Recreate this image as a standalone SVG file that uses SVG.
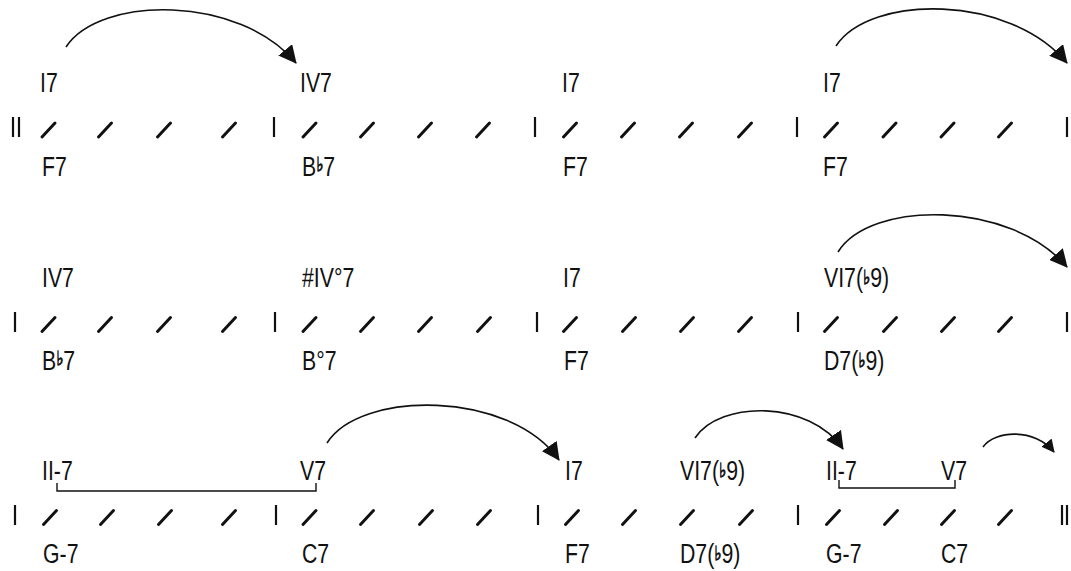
<svg xmlns="http://www.w3.org/2000/svg" width="1071" height="571" viewBox="0 0 1071 571">
<style>
.t{font-family:"Liberation Sans","DejaVu Sans",sans-serif;font-size:28px;fill:#111}
.s{font-family:"DejaVu Sans",sans-serif;font-size:20px;stroke:#111;stroke-width:0.9}
.sl{stroke:#111;stroke-width:3;stroke-linecap:round}
.bar{stroke:#111;stroke-width:2.2}
.arc{fill:none;stroke:#111;stroke-width:1.6}
.br{fill:none;stroke:#111;stroke-width:1.4}
</style>
<defs>
<marker id="ah" viewBox="0 0 18 18" refX="17" refY="9" markerWidth="18" markerHeight="18" markerUnits="userSpaceOnUse" orient="auto">
<path d="M0,0 L18,9 L0,18 z" fill="#111"/>
</marker>
<marker id="ahs" viewBox="0 0 13 13" refX="12" refY="6.5" markerWidth="13" markerHeight="13" markerUnits="userSpaceOnUse" orient="auto">
<path d="M0,0 L13,6.5 L0,13 z" fill="#111"/>
</marker>
<g id="beats">
<line class="sl" x1="-6.5" y1="7" x2="6.5" y2="-7"/>
</g>
</defs>
<rect width="1071" height="571" fill="#fff"/>

<!-- Staff row 1 -->
<g id="staff1">
<line class="bar" x1="13" y1="117" x2="13" y2="137"/>
<line class="bar" x1="19" y1="117" x2="19" y2="137"/>
<line class="bar" x1="274" y1="117" x2="274" y2="137"/>
<line class="bar" x1="535" y1="117" x2="535" y2="137"/>
<line class="bar" x1="797" y1="117" x2="797" y2="137"/>
<line class="bar" x1="1067" y1="117" x2="1067" y2="137"/>
<use href="#beats" x="48.5" y="130"/><use href="#beats" x="105" y="130"/><use href="#beats" x="164" y="130"/><use href="#beats" x="229" y="130"/>
<use href="#beats" x="309.5" y="130"/><use href="#beats" x="367" y="130"/><use href="#beats" x="425" y="130"/><use href="#beats" x="483" y="130"/>
<use href="#beats" x="570" y="130"/><use href="#beats" x="628" y="130"/><use href="#beats" x="686" y="130"/><use href="#beats" x="745" y="130"/>
<use href="#beats" x="831" y="130"/><use href="#beats" x="889.5" y="130"/><use href="#beats" x="947.5" y="130"/><use href="#beats" x="1005" y="130"/>
</g>

<!-- Staff row 2 -->
<g id="staff2">
<line class="bar" x1="15" y1="312" x2="15" y2="332"/>
<line class="bar" x1="275" y1="312" x2="275" y2="332"/>
<line class="bar" x1="537" y1="312" x2="537" y2="332"/>
<line class="bar" x1="798" y1="312" x2="798" y2="332"/>
<line class="bar" x1="1067" y1="312" x2="1067" y2="332"/>
<use href="#beats" x="48.5" y="324.5"/><use href="#beats" x="105" y="324.5"/><use href="#beats" x="164" y="324.5"/><use href="#beats" x="229" y="324.5"/>
<use href="#beats" x="309.5" y="324.5"/><use href="#beats" x="367" y="324.5"/><use href="#beats" x="425" y="324.5"/><use href="#beats" x="484" y="324.5"/>
<use href="#beats" x="570" y="324.5"/><use href="#beats" x="629" y="324.5"/><use href="#beats" x="687" y="324.5"/><use href="#beats" x="745" y="324.5"/>
<use href="#beats" x="831" y="324.5"/><use href="#beats" x="890" y="324.5"/><use href="#beats" x="948" y="324.5"/><use href="#beats" x="1005" y="324.5"/>
</g>

<!-- Staff row 3 -->
<g id="staff3">
<line class="bar" x1="15" y1="505" x2="15" y2="525"/>
<line class="bar" x1="276" y1="505" x2="276" y2="525"/>
<line class="bar" x1="538" y1="505" x2="538" y2="525"/>
<line class="bar" x1="798" y1="505" x2="798" y2="525"/>
<line class="bar" x1="1062" y1="505" x2="1062" y2="525"/>
<line class="bar" x1="1067" y1="505" x2="1067" y2="525"/>
<use href="#beats" x="50" y="517.5"/><use href="#beats" x="107" y="517.5"/><use href="#beats" x="165" y="517.5"/><use href="#beats" x="229" y="517.5"/>
<use href="#beats" x="309.5" y="517.5"/><use href="#beats" x="367" y="517.5"/><use href="#beats" x="426" y="517.5"/><use href="#beats" x="484" y="517.5"/>
<use href="#beats" x="572" y="517.5"/><use href="#beats" x="629" y="517.5"/><use href="#beats" x="687" y="517.5"/><use href="#beats" x="746" y="517.5"/>
<use href="#beats" x="833" y="517.5"/><use href="#beats" x="891" y="517.5"/><use href="#beats" x="948" y="517.5"/><use href="#beats" x="1005" y="517.5"/>
</g>

<!-- Chords row 1 -->
<g id="r1c1"><text class="t" transform="translate(40 92) scale(0.76 1)">I7</text><text class="t" transform="translate(42 176) scale(0.76 1)">F7</text></g>
<g id="r1c2"><text class="t" transform="translate(300 92) scale(0.76 1)">IV7</text><text class="t" transform="translate(302 176) scale(0.76 1)">B<tspan class="s" dy="-5">♭</tspan><tspan dy="5">7</tspan></text></g>
<g id="r1c3"><text class="t" transform="translate(562 92) scale(0.76 1)">I7</text><text class="t" transform="translate(563 176) scale(0.76 1)">F7</text></g>
<g id="r1c4"><text class="t" transform="translate(823 92) scale(0.76 1)">I7</text><text class="t" transform="translate(823 176) scale(0.76 1)">F7</text></g>

<!-- Chords row 2 -->
<g id="r2c1"><text class="t" transform="translate(42 287) scale(0.76 1)">IV7</text><text class="t" transform="translate(42 370) scale(0.76 1)">B<tspan class="s" dy="-5">♭</tspan><tspan dy="5">7</tspan></text></g>
<g id="r2c2"><text class="t" transform="translate(302 287) scale(0.76 1)">#IV°7</text><text class="t" transform="translate(302 370) scale(0.76 1)">B°7</text></g>
<g id="r2c3"><text class="t" transform="translate(563 287) scale(0.76 1)">I7</text><text class="t" transform="translate(564 370) scale(0.76 1)">F7</text></g>
<g id="r2c4"><text class="t" transform="translate(824 287) scale(0.76 1)">VI7(<tspan class="s" dy="-3">♭</tspan><tspan dy="3">9)</tspan></text><text class="t" transform="translate(824 370) scale(0.76 1)">D7(<tspan class="s" dy="-3">♭</tspan><tspan dy="3">9)</tspan></text></g>

<!-- Chords row 3 -->
<g id="r3c1"><text class="t" transform="translate(42 480) scale(0.76 1)">II-7</text><text class="t" transform="translate(43 563) scale(0.76 1)">G-7</text></g>
<g id="r3c2"><text class="t" transform="translate(300 480) scale(0.76 1)">V7</text><text class="t" transform="translate(302 563) scale(0.76 1)">C7</text></g>
<g id="r3c3"><text class="t" transform="translate(565 480) scale(0.76 1)">I7</text><text class="t" transform="translate(565 563) scale(0.76 1)">F7</text></g>
<g id="r3c4"><text class="t" transform="translate(680 480) scale(0.76 1)">VI7(<tspan class="s" dy="-3">♭</tspan><tspan dy="3">9)</tspan></text><text class="t" transform="translate(680 563) scale(0.76 1)">D7(<tspan class="s" dy="-3">♭</tspan><tspan dy="3">9)</tspan></text></g>
<g id="r3c5"><text class="t" transform="translate(826 480) scale(0.76 1)">II-7</text><text class="t" transform="translate(826 563) scale(0.76 1)">G-7</text></g>
<g id="r3c6"><text class="t" transform="translate(941 480) scale(0.76 1)">V7</text><text class="t" transform="translate(941 563) scale(0.76 1)">C7</text></g>

<!-- Connectors -->
<g id="connectors">
<path class="arc" d="M66,47 C100,-5 240,-5 296,63" marker-end="url(#ah)"/>
<path class="arc" d="M836,46 C870,-6 1010,-6 1067,63" marker-end="url(#ah)"/>
<path class="arc" d="M838,252 C870,200 1010,200 1067,267" marker-end="url(#ah)"/>
<path class="arc" d="M327,443 C360,390 510,390 559,460" marker-end="url(#ah)"/>
<path class="arc" d="M695,438 C720,400 810,400 843,449" marker-end="url(#ah)"/>
<path class="arc" d="M983,447 C995,430 1035,428 1054,452" marker-end="url(#ahs)"/>
<path class="br" d="M57,483 V491 H316 V483"/>
<path class="br" d="M839,480 V488 H955 V480"/>
</g>
</svg>
